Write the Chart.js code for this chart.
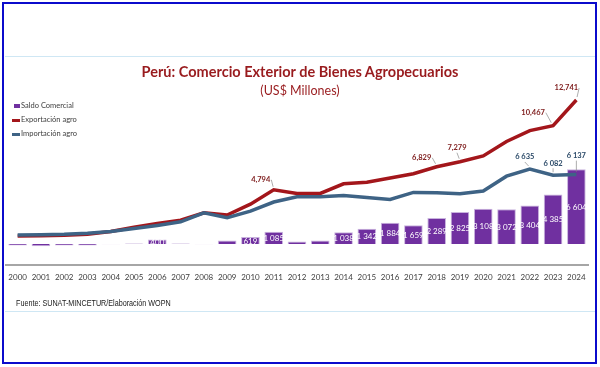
<!DOCTYPE html>
<html>
<head>
<meta charset="utf-8">
<script src="https://cdn.jsdelivr.net/npm/chart.js@4.4.1/dist/chart.umd.min.js"></script>
<style>
  html, body { margin:0; padding:0; background:#fff; }
  #wrap { position:relative; width:600px; height:367px; overflow:hidden; background:#fff; }
  #c { position:absolute; left:0; top:0; }
  .frame { position:absolute; left:2px; top:2px; width:591px; height:358px; border:2px solid #0b0bcc; pointer-events:none; }
  .hline { position:absolute; left:5px; width:590px; height:1px; background:#cfe7f4; }
  #title { position:absolute; left:0; width:600px; top:63px; text-align:center; font:bold 14.5px Lato, sans-serif; color:#991b1e; white-space:nowrap; }
  #subtitle { position:absolute; left:0; width:600px; top:83px; text-align:center; font:12.5px Lato, sans-serif; color:#991b1e; white-space:nowrap; }
  #legend { position:absolute; left:12px; top:99px; font:7.5px Lato, sans-serif; color:#404040; }
  #legend .item { height:14px; line-height:10px; display:flex; align-items:center; }
  #legend .mk { display:inline-block; margin-right:1px; }
  #source { position:absolute; left:16px; top:298px; font:9px "Liberation Sans", Arial, sans-serif; color:#1a1a1a; white-space:nowrap; transform:scaleX(0.8); transform-origin:left center; }
</style>
</head>
<body>
<div id="wrap">
  <canvas id="c" width="600" height="367"></canvas>
  <div class="hline" style="top:56px"></div>
  <div class="hline" style="top:311px"></div>
  <div id="title">Perú: Comercio Exterior de Bienes Agropecuarios</div>
  <div id="subtitle">(US$ Millones)</div>
  <div id="legend"></div>
  <div id="source">Fuente: SUNAT-MINCETUR/Elaboración WOPN</div>
  <div class="frame"></div>
</div>
<script>
// ---- data (US$ millones) ----
const years = ['2000','2001','2002','2003','2004','2005','2006','2007','2008','2009','2010','2011','2012',
               '2013','2014','2015','2016','2017','2018','2019','2020','2021','2022','2023','2024'];
const saldoComercial   = [-130,-200,-130,-130,-30,30,400,40,-30,310,619,1085,220,300,1038,1342,1884,1659,2289,2825,3108,3072,3404,4385,6604];
const exportacionAgro  = [700,720,780,860,1100,1480,1820,2100,2760,2560,3520,4794,4470,4470,5320,5460,5830,6220,6829,7279,7790,9070,10039,10467,12741];
const importacionAgro  = [800,820,850,950,1100,1360,1640,1960,2760,2330,2900,3709,4180,4180,4282,4118,3946,4561,4540,4454,4682,5998,6635,6082,6137];
const saldoLabelYears  = ['2006','2010','2011','2014','2015','2016','2017','2018','2019','2020','2021','2022','2023','2024'];
const exportLabelYears = ['2011','2018','2019','2023','2024'];
const importLabelYears = ['2022','2023','2024'];

// label placement (pixel offsets from the point), styling only
const exportLabelOffset = {'2011':[-13,-10],'2018':[-15,-9],'2019':[-3,-14],'2023':[-20,-13],'2024':[-10,-12]};
const importLabelOffset = {'2022':[-5,-12],'2023':[0,-12],'2024':[0,-19]};

const fmtComma = v => v.toLocaleString('en-US');
const fmtSpace = v => v.toLocaleString('en-US').replace(/,/g,' ');

const C_BAR = '#7030a0', C_EXP = '#a3161b', C_IMP = '#3e6385';

const labelPlugin = {
  id: 'labelPlugin',
  afterDraw(chart) {
    const ctx = chart.ctx;
    ctx.save();
    // bar labels
    const mb = chart.getDatasetMeta(0);
    ctx.font = '8px Lato, sans-serif';
    ctx.fillStyle = '#ffffff';
    ctx.textAlign = 'center'; ctx.textBaseline = 'middle';
    saldoLabelYears.forEach(y => {
      const i = years.indexOf(y); const el = mb.data[i];
      ctx.fillText(fmtSpace(saldoComercial[i]), el.x, (el.y + el.base) / 2 + 0.5);
    });
    const drawLineLabels = (metaIdx, list, values, offs, color, fmt) => {
      const m = chart.getDatasetMeta(metaIdx);
      list.forEach(y => {
        const i = years.indexOf(y); const p = m.data[i];
        const [dx, dy] = offs[y];
        const lx = p.x + dx, ly = p.y + dy;
        const txt = fmt(values[i]);
        ctx.font = 'bold 7.5px Lato, sans-serif';
        const w = ctx.measureText(txt).width;
        // leader line
        ctx.strokeStyle = '#8a8a8a'; ctx.lineWidth = 0.7;
        ctx.beginPath();
        let sx, sy;
        if (Math.abs(dx) > 6) { sx = lx + w/2 + 1; sy = ly; } else { sx = lx; sy = ly + 5; }
        ctx.moveTo(sx, sy);
        ctx.lineTo(p.x - (p.x - sx) * 0.25, p.y - 3);
        ctx.stroke();
        ctx.fillStyle = color;
        ctx.fillText(txt, lx, ly);
      });
    };
    drawLineLabels(1, exportLabelYears, exportacionAgro, exportLabelOffset, '#7d1a1a', fmtComma);
    drawLineLabels(2, importLabelYears, importacionAgro, importLabelOffset, '#2b4a68', fmtSpace);
    ctx.restore();
  }
};

const chart = new Chart(document.getElementById('c'), {
  type: 'bar',
  data: {
    labels: years,
    datasets: [
      { type:'bar', label:'Saldo Comercial', data:saldoComercial, backgroundColor:C_BAR,
        borderColor:'#c9b3de', borderWidth:1, barPercentage:0.8, categoryPercentage:1, order:3 },
      { type:'line', label:'Exportación agro', data:exportacionAgro, borderColor:C_EXP, backgroundColor:C_EXP,
        borderWidth:3.5, pointRadius:0, tension:0, order:2 },
      { type:'line', label:'Importación agro', data:importacionAgro, borderColor:C_IMP, backgroundColor:C_IMP,
        borderWidth:3.5, pointRadius:0, tension:0, order:1 }
    ]
  },
  options: {
    responsive:false, animation:false, devicePixelRatio:1,
    layout:{ padding:{ top:70, left:6, right:12, bottom:78 } },
    plugins:{ legend:{display:false}, tooltip:{enabled:false}, title:{display:false} },
    scales:{
      x:{ grid:{display:false, drawTicks:false}, border:{display:true, color:'#a6a6a6', width:2},
          ticks:{ color:'#404040', font:{family:'Lato', size:8}, padding:7, maxRotation:0, autoSkip:false } },
      y:{ display:false, min:-1900, max:15400 }
    }
  },
  plugins:[labelPlugin]
});

// HTML legend built from the chart's datasets
const lg = document.getElementById('legend');
chart.data.datasets.forEach((ds, k) => {
  const it = document.createElement('div'); it.className = 'item';
  const mk = document.createElement('span'); mk.className = 'mk';
  if (ds.type === 'bar') { mk.style.cssText = 'width:6px;height:4px;margin-left:2px;background:' + ds.backgroundColor; }
  else { mk.style.cssText = 'width:8px;height:3px;background:' + ds.borderColor; }
  it.appendChild(mk);
  it.appendChild(document.createTextNode(ds.label));
  lg.appendChild(it);
});
</script>
</body>
</html>
